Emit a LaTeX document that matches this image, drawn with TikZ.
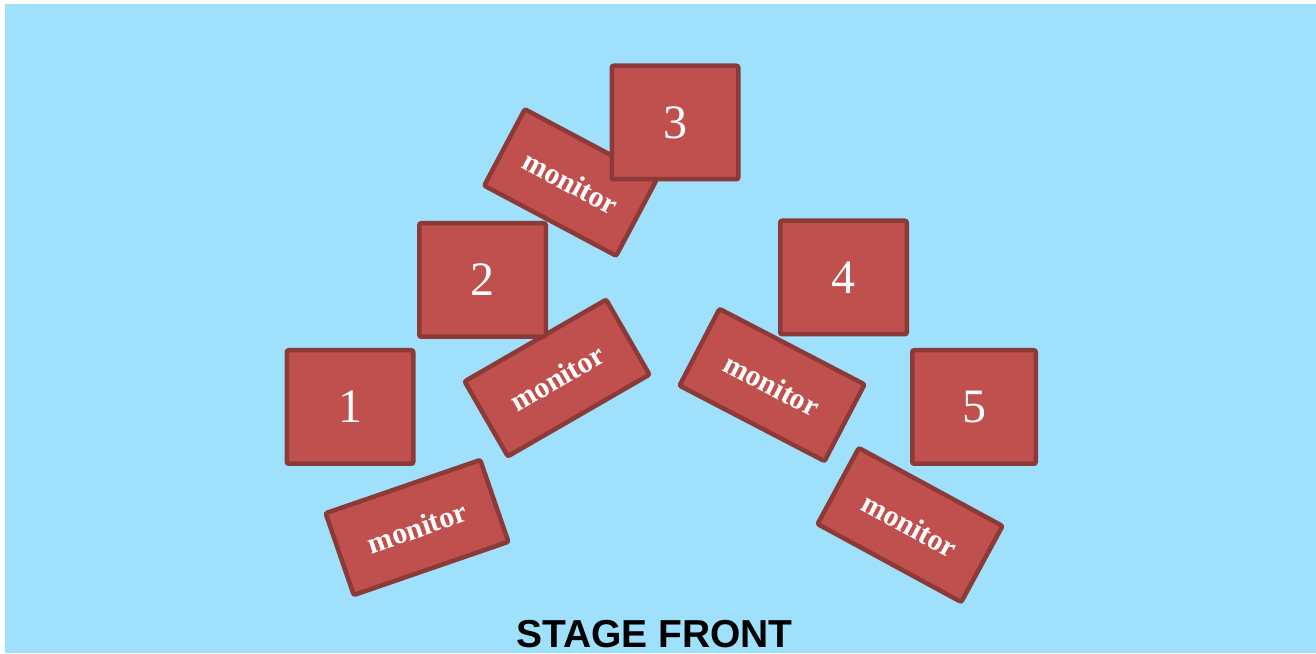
\documentclass[tikz,border=0pt]{standalone}
\usepackage{fontspec}
\usetikzlibrary{shadows}
\newfontfamily\serifface{Liberation Serif}
\newfontfamily\stageface{Liberation Sans}
\definecolor{stagebg}{HTML}{9FE1FD}
\definecolor{boxred}{HTML}{C0504D}
\definecolor{boxedge}{HTML}{8C3A38}
\begin{document}
\begin{tikzpicture}[x=1pt,y=1pt,
        playerbox/.style={draw=boxedge, fill=boxred, line width=4.5pt, rounded corners=2pt,
            minimum width=126.5pt, minimum height=113.5pt, inner sep=0pt, text=white,
            font=\serifface\fontsize{48}{50}\selectfont,
            drop shadow={shadow xshift=1pt, shadow yshift=-2pt, opacity=0.25}},
        monitorbox/.style={draw=boxedge, fill=boxred, line width=4.5pt, rounded corners=2pt,
            minimum width=163.5pt, minimum height=86.5pt, inner sep=0pt, text=white,
            font=\serifface\bfseries\fontsize{30}{32}\selectfont,
            drop shadow={shadow xshift=1pt, shadow yshift=-2pt, opacity=0.25}}]
    \useasboundingbox (0,0) rectangle (1316,653);
    \fill[stagebg] (5,0) rectangle (1316,649);
    % monitors first, players on top
    \node[monitorbox, rotate=19] (mon1) at (417,125.5) {monitor};
    \node[monitorbox, rotate=30] (mon2) at (557,275) {monitor};
    \node[monitorbox, rotate=-28, minimum width=149.5pt] (mon3) at (570.5,470.5) {monitor};
    \node[monitorbox, rotate=-27.5] (mon4) at (772,268) {monitor};
    \node[monitorbox, rotate=-28.5] (mon5) at (910,128) {monitor};
    \node[playerbox] (p1) at (350,246) {1};
    \node[playerbox] (p2) at (482.5,373) {2};
    \node[playerbox] (p3) at (675,530.5) {3};
    \node[playerbox] (p4) at (843.5,375.5) {4};
    \node[playerbox, minimum width=123.5pt] (p5) at (974,246) {5};
    \node[anchor=base, font=\stageface\bfseries\fontsize{39}{40}\selectfont] (front) at (654.5,6) {STAGE FRONT};
\end{tikzpicture}
\end{document}
